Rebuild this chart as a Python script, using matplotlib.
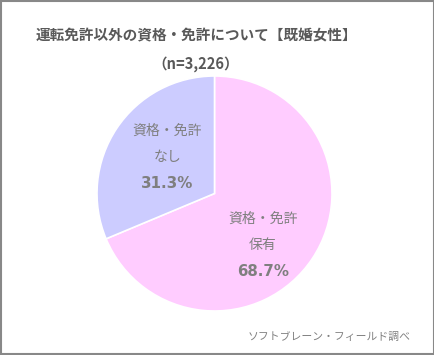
import matplotlib
matplotlib.use("Agg")
import matplotlib.pyplot as plt
import numpy as np

plt.rcParams['font.family'] = ['Noto Sans CJK JP', 'DejaVu Sans']

categories = ["資格・免許\n保有", "資格・免許\nなし"]
values = [68.7, 31.3]
colors = ["#FFCCFF", "#CCCCFF"]
title = "運転免許以外の資格・免許について【既婚女性】"
subtitle = "（n=3,226）"
source = "ソフトブレーン・フィールド調べ"

W, H = 435, 355
fig = plt.figure(figsize=(W/100, H/100), dpi=100)
cx, cy, r = 214.5, 193.5, 117.5
ax = fig.add_axes([(cx - r)/W, (H - cy - r)/H, 2*r/W, 2*r/H])
wedges, _ = ax.pie(values, colors=colors, startangle=90, counterclock=False,
                   wedgeprops=dict(edgecolor="white", linewidth=1.2))
ax.set_xlim(-1, 1); ax.set_ylim(-1, 1)
ax.set_aspect('equal')

# label anchor points (middle line, axes-data units, layout only)
label_pos = [(0.41, -0.44), (-0.40, 0.31)]
step = 0.222
for cat, v, (x, y) in zip(categories, values, label_pos):
    lines = cat.split("\n")
    for i, ln in enumerate(lines):
        ax.text(x, y + step*(len(lines) - 1 - i), ln, ha='center', va='center',
                fontsize=10, color='#7F7F7F')
    ax.text(x, y - step, f"{v:.1f}%", ha='center', va='center', fontsize=10.8,
            color='#7F7F7F', fontweight='bold', family=['DejaVu Sans'])

fig.text(196/W, 1 - 35/H, title, ha='center', va='center', fontsize=10.5,
         fontweight='bold', color='#595959')
fig.text(196/W, 1 - 64/H, subtitle, ha='center', va='center', fontsize=10.5,
         fontweight='bold', color='#595959')
fig.text(329/W, 1 - 337/H, source, ha='center', va='center', fontsize=7.8,
         color='#808080')

fig.patches.append(plt.Rectangle((0.002, 0.003), 0.995, 0.994, transform=fig.transFigure,
                                 fill=False, edgecolor='#888888', linewidth=1.5))
fig.savefig("out.png", dpi=100)
